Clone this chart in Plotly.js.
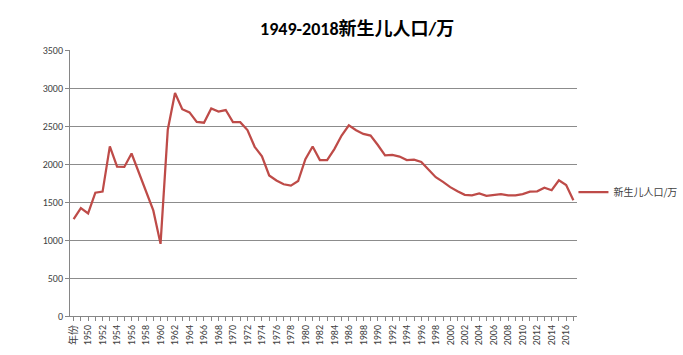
<!DOCTYPE html>
<html><head><meta charset="utf-8">
<script src="https://cdn.plot.ly/plotly-3.0.1.min.js"></script>
<style>html,body{margin:0;padding:0;background:#fff;}#c{width:683px;height:355px;}</style>
</head><body><div id="c"></div>
<script>
const categories = ["年份"];
for (let y = 1949; y <= 2017; y++) categories.push(String(y));
const births = [1275,1419,1349,1622,1637,2232,1965,1961,2138,1889,1635,1389,949,2451,2934,2721,2679,2554,2543,2731,2690,2710,2551,2550,2447,2226,2102,1849,1783,1733,1715,1776,2064,2230,2052,2050,2196,2374,2508,2445,2396,2374,2250,2113,2120,2098,2052,2057,2028,1934,1827,1765,1696,1641,1594,1588,1612,1581,1591,1604,1587,1588,1604,1635,1640,1687,1655,1786,1723,1523];
const seriesName = "新生儿人口/万";
const titleText = "1949-2018新生儿人口/万";
const yTicks = [0,500,1000,1500,2000,2500,3000,3500];

const tickText = categories.map((c,i)=> i%2===0 ? c : "");
const baseFont = "Calibri, Carlito, 'Liberation Sans', 'Noto Sans CJK SC', sans-serif";

Plotly.newPlot("c", [{
  x: categories, y: births, type: "scatter", mode: "lines", name: seriesName,
  line: {color: "#BE4B48", width: 2.25}
}], {
  width: 683, height: 355,
  margin: {l: 70, r: 106, t: 50, b: 39, autoexpand: false},
  paper_bgcolor: "#fff", plot_bgcolor: "#fff",
  font: {family: baseFont, size: 10, color: "#404040"},
  title: {text: "<b>" + titleText + "</b>", x: 0.523, xanchor: "center", y: 0.92, yanchor: "middle",
          font: {family: "Calibri, Carlito, 'Noto Sans CJK SC', sans-serif", size: 18, color: "#000"}},
  xaxis: {type: "category", range: [-0.5, categories.length - 0.5],
          tickmode: "array", tickvals: categories, ticktext: tickText, tickangle: -90,
          ticks: "outside", ticklen: 4, tickcolor: "#868686",
          showline: true, linecolor: "#868686", linewidth: 1, showgrid: false,
          tickfont: {size: 10, color: "#404040"}},
  yaxis: {range: [0, 3500], tickvals: yTicks, ticks: "outside", ticklen: 4, tickcolor: "#868686",
          showline: true, linecolor: "#868686", linewidth: 1,
          showgrid: true, gridcolor: "#8c8c8c", gridwidth: 1, zeroline: false,
          tickfont: {size: 10, color: "#404040"}},
  showlegend: true,
  legend: {x: 0.993, xanchor: "left", y: 0.466, yanchor: "middle", itemwidth: 30,
           font: {size: 10, color: "#404040", family: "'Noto Sans CJK SC', sans-serif"},
           bgcolor: "rgba(0,0,0,0)"}
}, {displayModeBar: false, staticPlot: true});
</script></body></html>
